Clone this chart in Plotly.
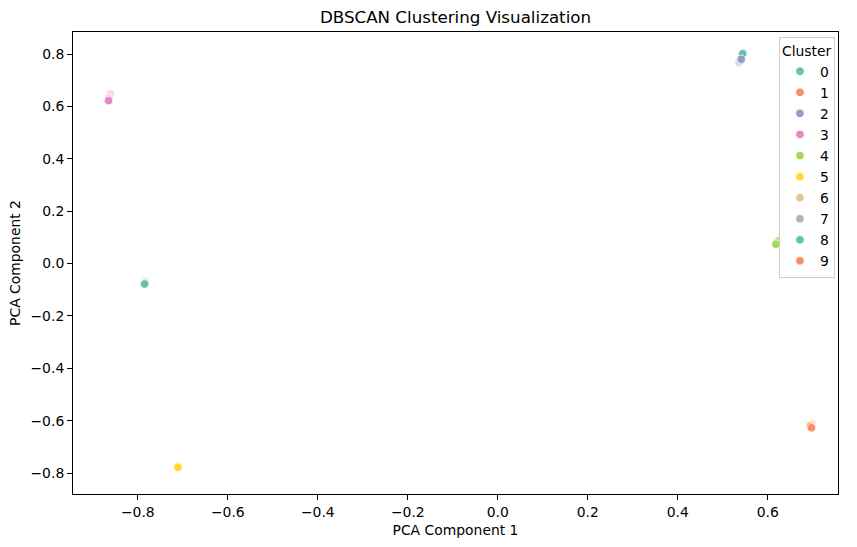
import plotly.graph_objects as go

# Cluster labels and Set2 palette colours (seaborn default for hue)
clusters = ["0", "1", "2", "3", "4", "5", "6", "7", "8", "9"]
colors = ["#66c2a5", "#fc8d62", "#8da0cb", "#e78ac3", "#a6d854",
          "#ffd92f", "#e5c494", "#b3b3b3", "#66c2a5", "#fc8d62"]
# drawing order (bottom to top)
draw_order = ["7", "6", "9", "0", "1", "2", "3", "4", "5", "8"]

# PCA coordinates per cluster
x_vals = {
    "0": [0.546, 0.545, 0.544],
    "1": [0.694, 0.696, 0.697],
    "2": [0.537, 0.540, 0.541],
    "3": [-0.861, -0.864, -0.865],
    "4": [0.621, 0.619, 0.618],
    "5": [-0.709, -0.711, -0.711],
    "6": [0.626, 0.624, 0.623],
    "7": [0.536, 0.538, 0.540],
    "8": [-0.783, -0.784, -0.785],
    "9": [0.699, 0.697, 0.695],
}
y_vals = {
    "0": [0.806, 0.803, 0.801],
    "1": [-0.618, -0.624, -0.627],
    "2": [0.770, 0.776, 0.780],
    "3": [0.647, 0.632, 0.622],
    "4": [0.082, 0.077, 0.074],
    "5": [-0.772, -0.776, -0.778],
    "6": [0.093, 0.089, 0.086],
    "7": [0.766, 0.772, 0.777],
    "8": [-0.068, -0.074, -0.078],
    "9": [-0.612, -0.618, -0.622],
}

fig = go.Figure()
for c in draw_order:
    i = clusters.index(c)
    col = colors[i]
    xs, ys = x_vals[c], y_vals[c]
    fig.add_trace(go.Scatter(
        x=xs[:-1], y=ys[:-1], mode="markers", legendgroup=c, showlegend=False,
        opacity=0.35,
        marker=dict(color=col, size=8.5, line=dict(color="white", width=0.75)),
        hoverinfo="skip"))
    fig.add_trace(go.Scatter(
        x=xs[-1:], y=ys[-1:], mode="markers", name=c, legendgroup=c,
        legendrank=i + 1,
        marker=dict(color=col, size=8.5, line=dict(color="white", width=0.75))))

font = "DejaVu Sans"
axis_common = dict(
    showgrid=False, zeroline=False, showline=True, linecolor="black",
    linewidth=1, mirror=True, ticks="outside", ticklen=5, tickwidth=1,
    tickcolor="black", tickfont=dict(family=font, size=13.9, color="black"),
    title_font=dict(family=font, size=13.9, color="black"),
)

fig.update_layout(
    width=857, height=547,
    margin=dict(l=73, r=19, t=32, b=51),
    paper_bgcolor="white", plot_bgcolor="white",
    title=dict(text="DBSCAN Clustering Visualization", x=(73 + 838) / 2 / 857,
               xanchor="center", y=1 - 17 / 547, yanchor="middle",
               font=dict(family=font, size=16.7, color="black")),
    xaxis=dict(range=[-0.944, 0.756], tickvals=[-0.8, -0.6, -0.4, -0.2, 0.0, 0.2, 0.4, 0.6],
               ticktext=["−0.8", "−0.6", "−0.4", "−0.2", "0.0", "0.2", "0.4", "0.6"],
               title=dict(text="PCA Component 1", standoff=6), **axis_common),
    yaxis=dict(range=[-0.88, 0.884], tickvals=[-0.8, -0.6, -0.4, -0.2, 0.0, 0.2, 0.4, 0.6, 0.8],
               ticktext=["−0.8", "−0.6", "−0.4", "−0.2", "0.0", "0.2", "0.4", "0.6", "0.8"],
               title=dict(text="PCA Component 2", standoff=6), **axis_common),
    legend=dict(
        x=0.996, y=0.99, xanchor="right", yanchor="top",
        bgcolor="rgba(255,255,255,0.8)", bordercolor="#cccccc", borderwidth=1,
        font=dict(family=font, size=13.9, color="black"),
        title=dict(text="Cluster", side="top", font=dict(family=font, size=13.9, color="black")),
        tracegroupgap=0, itemwidth=30,
    ),
    showlegend=True,
)

fig.write_html("out.html", config={"displayModeBar": False},
               post_script="document.body.style.margin='0';")
